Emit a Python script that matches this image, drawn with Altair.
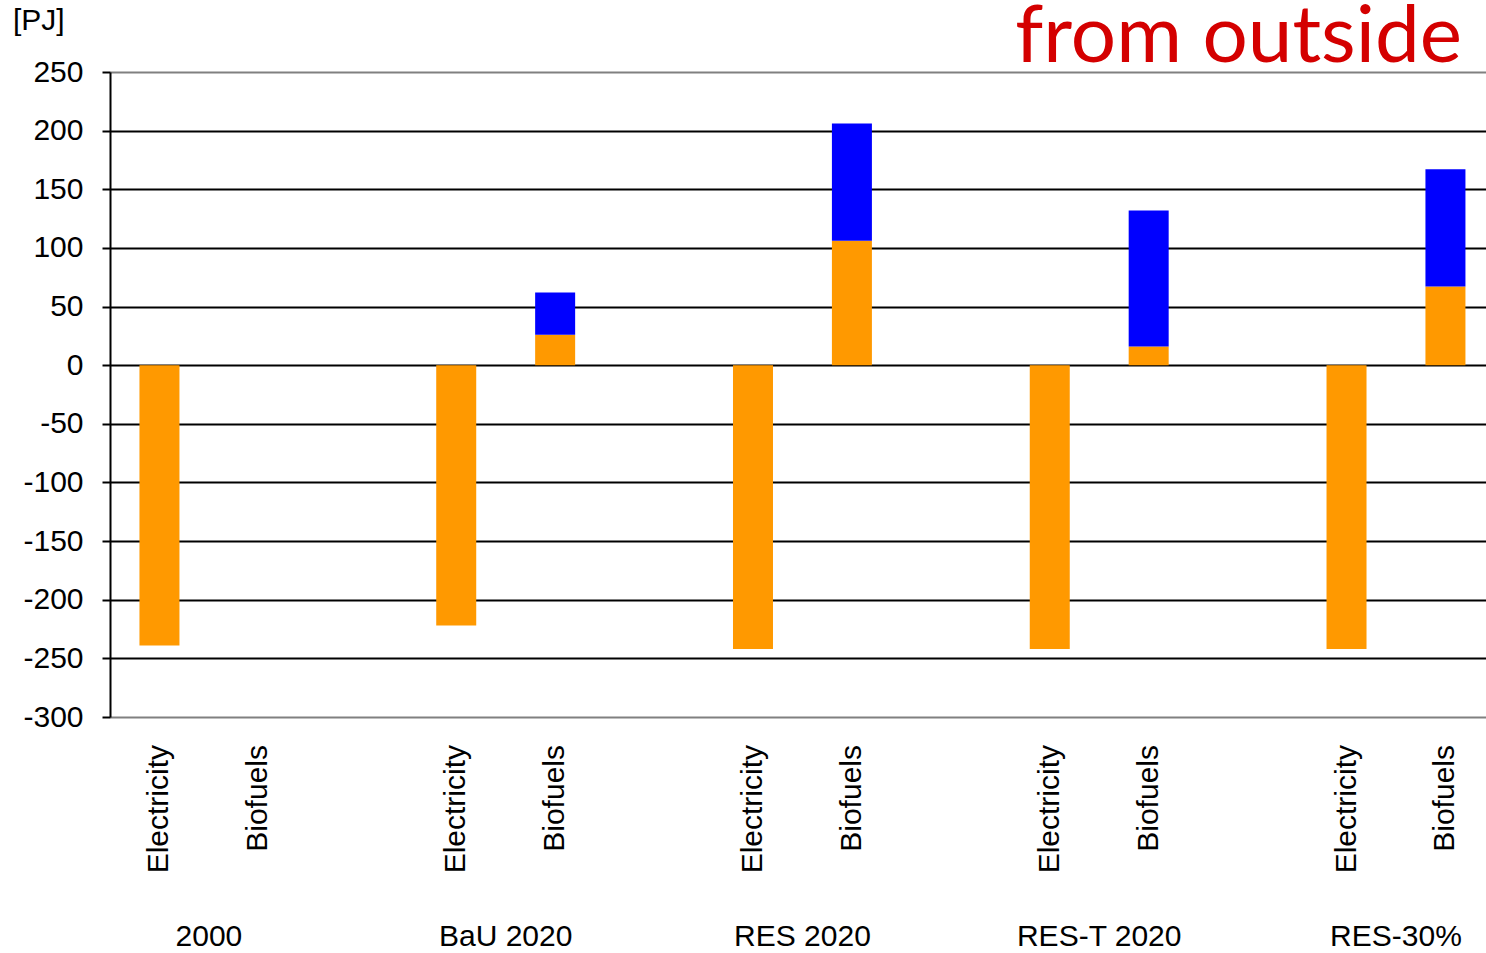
import altair as alt
import pandas as pd

groups = ["2000", "BaU 2020", "RES 2020", "RES-T 2020", "RES-30%"]
items = ["Electricity", "Biofuels"]
electricity_orange = [-239, -222, -242, -242, -242]
biofuels_orange = [0, 26, 106, 16, 67]
biofuels_blue = [0, 36, 100, 116, 100]
y_ticks = [-300, -250, -200, -150, -100, -50, 0, 50, 100, 150, 200, 250]

rows = []
labels = []
glabels = []
for g, name in enumerate(groups):
    ex = g * 3 + 0.5
    bx = g * 3 + 1.5
    rows.append({"x": ex, "v": electricity_orange[g], "s": "orange", "ord": 0})
    rows.append({"x": bx, "v": biofuels_orange[g], "s": "orange", "ord": 0})
    rows.append({"x": bx, "v": biofuels_blue[g], "s": "blue", "ord": 1})
    labels.append({"x": ex, "t": items[0]})
    labels.append({"x": bx, "t": items[1]})
    glabels.append({"x": g * 3 + 1, "t": name})

df = pd.DataFrame(rows)
dl = pd.DataFrame(labels)
dg = pd.DataFrame(glabels)

W, H = 1376, 645
xscale = alt.Scale(domain=[0, 13.91], nice=False, zero=False, padding=0)

bars = alt.Chart(df).mark_bar(size=40).encode(
    x=alt.X("x:Q", scale=xscale, axis=None),
    y=alt.Y("v:Q", stack="zero",
            scale=alt.Scale(domain=[-300, 250], nice=False),
            axis=alt.Axis(values=y_ticks, title=None, labelFontSize=30,
                          labelFont="Liberation Sans", labelColor="black",
                          labelExpr="'' + datum.value",
                          labelPadding=19, tickSize=8, tickColor="black",
                          tickWidth=2, domainColor="black", domainWidth=2,
                          gridWidth=2,
                          gridColor={"condition": {"test": "datum.value === 250 || datum.value === -300",
                                                   "value": "#808080"},
                                     "value": "black"})),
    color=alt.Color("s:N", scale=alt.Scale(domain=["orange", "blue"],
                                           range=["#FF9900", "#0000FF"]),
                    legend=None),
    order=alt.Order("ord:Q"),
)

cat_text = alt.Chart(dl).mark_text(angle=270, align="right", baseline="middle",
                                   fontSize=30, font="Liberation Sans",
                                   color="black").encode(
    x=alt.X("x:Q", scale=xscale),
    y=alt.value(H + 28),
    text="t:N",
)

grp_text = alt.Chart(dg).mark_text(align="center", baseline="middle",
                                   fontSize=30, font="Liberation Sans",
                                   color="black").encode(
    x=alt.X("x:Q", scale=xscale),
    y=alt.value(865),
    text="t:N",
)

unit = alt.Chart(pd.DataFrame({"t": ["[PJ]"]})).mark_text(
    align="left", baseline="middle", fontSize=30, font="Liberation Sans",
    color="black").encode(x=alt.value(-97), y=alt.value(-51), text="t:N")

note = alt.Chart(pd.DataFrame({"t": ["from outside"]})).mark_text(
    align="right", baseline="alphabetic", fontSize=80, font="Lato",
    color="#D40000").encode(x=alt.value(1352), y=alt.value(-10), text="t:N")

chart = alt.layer(bars, cat_text, grp_text, unit, note).properties(
    width=W, height=H,
    autosize=alt.AutoSizeParams(type="none"),
    padding={"left": 110, "top": 72, "right": 0, "bottom": 236},
).configure_view(stroke="#808080", strokeWidth=2).configure(background="white")

chart.save("out.html", embed_options={"renderer": "svg", "actions": False})
